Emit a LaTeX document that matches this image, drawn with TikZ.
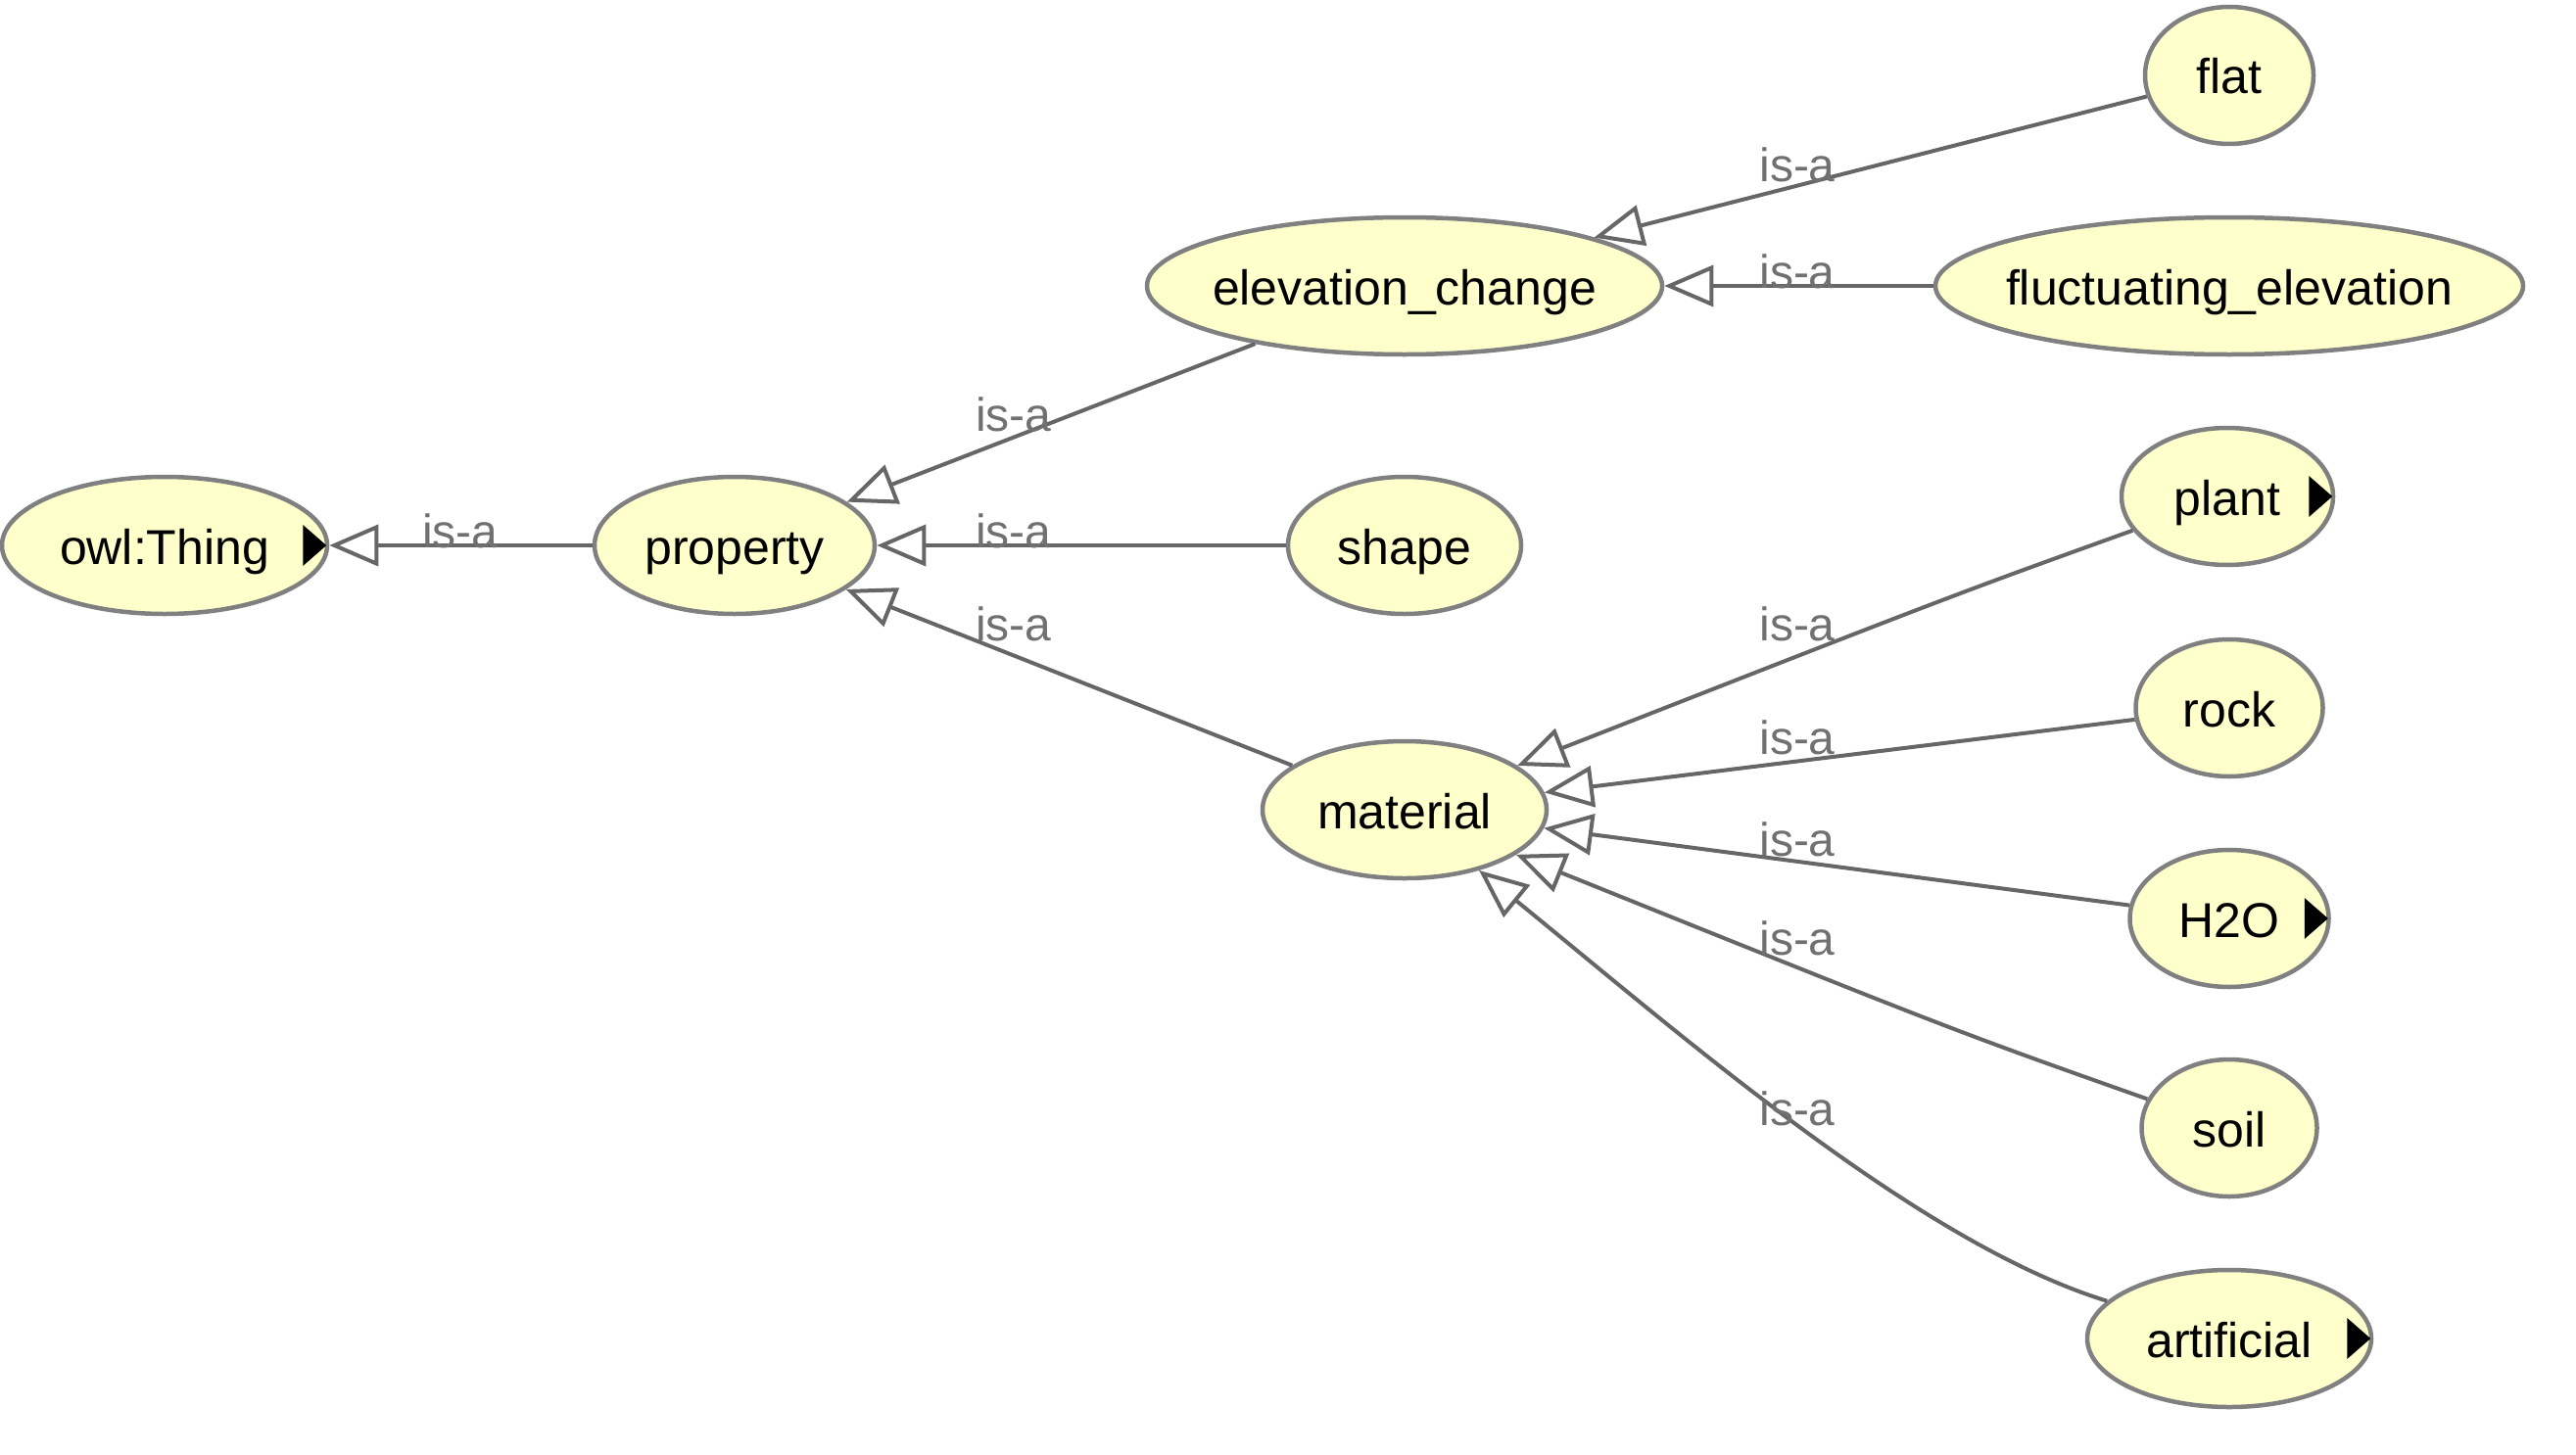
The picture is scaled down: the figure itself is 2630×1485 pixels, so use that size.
\documentclass[tikz,border=0pt]{standalone}
\usepackage{fontspec}
\setmainfont{Liberation Sans}
\usetikzlibrary{shapes.geometric,arrows.meta}
\definecolor{nodefill}{RGB}{255,255,204}
\definecolor{nodeline}{RGB}{128,128,128}
\definecolor{edgeline}{RGB}{102,102,102}
\definecolor{labeltext}{RGB}{112,112,112}
% class names take no width, so each ellipse keeps its given size
\newcommand{\cname}[1]{\makebox[0pt]{#1}}
\begin{document}
\begin{tikzpicture}[x=1pt,y=-1pt,
  cls/.style={ellipse, draw=nodeline, fill=nodefill, line width=4.5pt, inner sep=0pt,
    minimum height=140pt, text height=38pt, text depth=0pt,
    font=\fontsize{50}{60}\selectfont},
  isa/.style={draw=edgeline, line width=4pt,
    -{Triangle[length=50pt,width=42pt,fill=white]}},
  lbl/.style={text=labeltext, font=\fontsize{48}{58}\selectfont, inner sep=0pt},
  expander/.style={fill=black}
]
\useasboundingbox (0,0) rectangle (2630,1485);

% class nodes
\node[cls, minimum width=332pt] (thing) at (168,557) {\cname{owl:Thing}};
\node[cls, minimum width=286pt] (property) at (750,557) {\cname{property}};
\node[cls, minimum width=526pt] (elev) at (1434,292) {\cname{elevation\_change}};
\node[cls, minimum width=238pt] (shape) at (1434,557) {\cname{shape}};
\node[cls, minimum width=290pt] (material) at (1434,827) {\cname{material}};
\node[cls, minimum width=172pt] (flat) at (2276,77) {\cname{flat}};
\node[cls, minimum width=600pt] (fluct) at (2276,292) {\cname{fluctuating\_elevation}};
\node[cls, minimum width=216pt] (plant) at (2274,507) {\cname{plant}};
\node[cls, minimum width=191pt] (rock) at (2276,723) {\cname{rock}};
\node[cls, minimum width=203pt] (water) at (2276,938) {\cname{H2O}};
\node[cls, minimum width=179pt] (soil) at (2276,1152) {\cname{soil}};
\node[cls, minimum width=290pt] (artificial) at (2276,1367) {\cname{artificial}};

% expansion markers on classes with hidden subclasses
\foreach \n in {thing,plant,water,artificial}{
  \fill[expander] (\n.east) ++(-3,0) -- ++(-24,-21) -- ++(0,42) -- cycle;
}

% is-a connectors
\draw[isa] (property) -- (thing);
\draw[isa] (elev) -- (property);
\draw[isa] (shape) -- (property);
\draw[isa] (material) -- (property);
\draw[isa] (flat) -- (elev);
\draw[isa] (fluct) -- (elev);
\draw[isa] (plant) .. controls (1996,607) .. (material);
\draw[isa] (rock) -- (material);
\draw[isa] (water) -- (material);
\draw[isa] (soil) .. controls (1996,1053) .. (material);
\draw[isa] (artificial) .. controls (1960,1270) and (1720,1060) .. (material);

% connector labels
\node[lbl] (l1) at (470,542) {is-a};
\node[lbl] (l2) at (1035,423) {is-a};
\node[lbl] (l3) at (1035,542) {is-a};
\node[lbl] (l4) at (1035,637) {is-a};
\node[lbl] (l5) at (1835,168) {is-a};
\node[lbl] (l6) at (1835,277) {is-a};
\node[lbl] (l7) at (1835,637) {is-a};
\node[lbl] (l8) at (1835,753) {is-a};
\node[lbl] (l9) at (1835,857) {is-a};
\node[lbl] (l10) at (1835,958) {is-a};
\node[lbl] (l11) at (1835,1132) {is-a};
\end{tikzpicture}
\end{document}
